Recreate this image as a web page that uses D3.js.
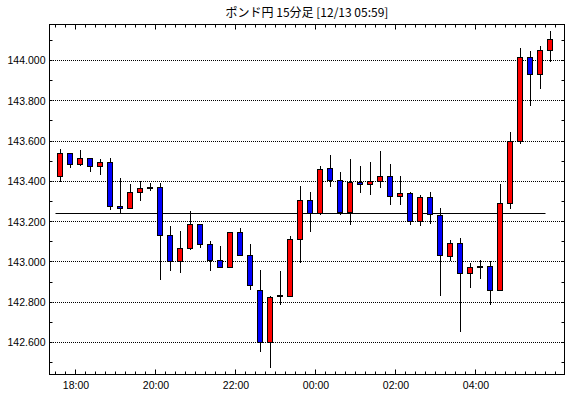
<!DOCTYPE html>
<html>
<head>
<meta charset="utf-8">
<script src="https://cdn.jsdelivr.net/npm/d3@7"></script>
<style>
  body { margin: 0; background: #fff; }
  svg { display: block; }
</style>
</head>
<body>
<div id="chart"></div>
<script>
// GBP/JPY 15 min candles, 12/12 17:30 -> 12/13 05:45
const startTime = "2016-12-12 17:30"
const opens  = [143.424, 143.537, 143.486, 143.515, 143.476, 143.496, 143.277, 143.267, 143.347, 143.370,
                143.370, 143.133, 143.004, 143.069, 143.188, 143.089, 143.009, 142.974, 143.148, 143.034,
                142.860, 142.602, 142.833, 142.830, 143.113, 143.307, 143.239, 143.466, 143.406, 143.247,
                143.396, 143.386, 143.401, 143.426, 143.327, 143.342, 143.203, 143.322, 143.233, 143.029,
                143.093, 142.945, 142.977, 142.979, 142.860, 143.292, 143.600, 144.017, 143.932, 144.052]
const highs  = [143.562, 143.542, 143.557, 143.515, 143.510, 143.515, 143.416, 143.388, 143.401, 143.394,
                143.394, 143.179, 143.155, 143.252, 143.188, 143.103, 143.079, 143.148, 143.168, 143.089,
                142.959, 142.830, 142.954, 143.130, 143.378, 143.348, 143.477, 143.532, 143.446, 143.512,
                143.477, 143.496, 143.552, 143.486, 143.426, 143.347, 143.332, 143.347, 143.267, 143.108,
                143.118, 142.994, 143.009, 143.004, 143.386, 143.646, 144.063, 144.047, 144.073, 144.147]
const lows   = [143.396, 143.464, 143.474, 143.444, 143.434, 143.260, 143.242, 143.267, 143.302, 143.352,
                142.910, 142.953, 142.943, 143.057, 143.067, 142.953, 142.969, 142.974, 143.029, 142.860,
                142.552, 142.473, 142.786, 142.830, 142.996, 143.151, 143.233, 143.374, 143.231, 143.181,
                143.340, 143.332, 143.367, 143.285, 143.285, 143.183, 143.178, 143.188, 142.830, 143.004,
                142.652, 142.870, 142.915, 142.786, 142.855, 143.262, 143.585, 143.774, 143.858, 143.995]
const closes = [143.537, 143.486, 143.515, 143.476, 143.496, 143.277, 143.267, 143.347, 143.367, 143.370,
                143.133, 143.004, 143.069, 143.188, 143.089, 143.009, 142.974, 143.148, 143.034, 142.885,
                142.602, 142.825, 142.833, 143.113, 143.307, 143.239, 143.461, 143.406, 143.247, 143.396,
                143.386, 143.401, 143.426, 143.327, 143.342, 143.203, 143.322, 143.237, 143.034, 143.093,
                142.945, 142.974, 142.977, 142.860, 143.292, 143.600, 144.017, 143.932, 144.052, 144.106]
const refLevel = 143.242
const yTickValues = [142.6, 142.8, 143.0, 143.2, 143.4, 143.6, 143.8, 144.0]
const xTickLabels = ["2016-12-12 18:00", "2016-12-12 20:00", "2016-12-12 22:00",
                     "2016-12-13 00:00", "2016-12-13 02:00", "2016-12-13 04:00"]
const title = "ポンド円 15分足 [12/13 05:59]"

const width = 570
const height = 398
const frame = { left: 49.5, right: 564.5, top: 24.5, bottom: 374.5 }
const slot = 10

const parse = d3.timeParse("%Y-%m-%d %H:%M")
const t0 = parse(startTime)
const times = opens.map((d, i) => d3.timeMinute.offset(t0, 15 * i))
const candles = times.map((t, i) => ({ t: t, o: opens[i], h: highs[i], l: lows[i], c: closes[i] }))

const svg = d3.select("#chart").append("svg")
    .attr("width", width)
    .attr("height", height)

const x = d3.scaleTime()
    .domain([t0, d3.timeMinute.offset(t0, 15 * candles.length)])
    .range([55.5, 55.5 + slot * candles.length])

const y = d3.scaleLinear()
    .domain([142.4412, 144.1787])
    .range([frame.bottom, frame.top])

const snap = v => Math.round(v - 0.5) + 0.5

// title
svg.append("text")
    .attr("x", (frame.left + frame.right) / 2)
    .attr("y", 17)
    .attr("text-anchor", "middle")
    .style("font-family", "'Noto Sans CJK JP', sans-serif")
    .style("font-size", "12px")
    .text(title)

// dotted grid
svg.append("g")
    .attr("shape-rendering", "crispEdges")
    .selectAll("line")
    .data(yTickValues)
    .join("line")
    .attr("x1", frame.left + 1.5).attr("x2", frame.right - 0.5)
    .attr("y1", d => snap(y(d))).attr("y2", d => snap(y(d)))
    .attr("stroke", "#000")
    .attr("stroke-dasharray", "1,1")

// y labels
const yAxis = svg.append("g")
    .attr("transform", "translate(" + frame.left + ",0)")
    .call(d3.axisLeft(y).tickValues(yTickValues).tickSize(0).tickPadding(4).tickFormat(d3.format(".3f")))
yAxis.select(".domain").remove()
yAxis.selectAll("text")
    .style("font-family", "'Liberation Sans', Arial, sans-serif")
    .style("font-size", "10.5px")
    .attr("fill", "#000")

// minor y ticks on both sides
const yMinor = d3.range(142.5, 144.15, 0.1).map(v => +v.toFixed(1))
svg.append("g")
    .selectAll("line")
    .data(yMinor)
    .join("line")
    .attr("x1", frame.left).attr("x2", frame.left + 3)
    .attr("y1", d => snap(y(d))).attr("y2", d => snap(y(d)))
    .attr("stroke", "#000")
svg.append("g")
    .selectAll("line")
    .data(yMinor)
    .join("line")
    .attr("x1", frame.right - 3).attr("x2", frame.right)
    .attr("y1", d => snap(y(d))).attr("y2", d => snap(y(d)))
    .attr("stroke", "#000")

// x ticks, every 15 minutes, longer on labelled hours
const labelTimes = xTickLabels.map(parse)
const isMajor = t => labelTimes.some(d => +d === +t)
const xTicks = x.ticks(d3.timeMinute.every(15))
const tickLen = t => isMajor(t) ? 5 : 3

svg.append("g")
    .selectAll("line")
    .data(xTicks)
    .join("line")
    .attr("x1", d => snap(x(d))).attr("x2", d => snap(x(d)))
    .attr("y1", frame.bottom).attr("y2", d => frame.bottom - tickLen(d))
    .attr("stroke", "#000")
svg.append("g")
    .selectAll("line")
    .data(xTicks)
    .join("line")
    .attr("x1", d => snap(x(d))).attr("x2", d => snap(x(d)))
    .attr("y1", frame.top).attr("y2", d => frame.top + tickLen(d))
    .attr("stroke", "#000")

const xAxis = svg.append("g")
    .attr("transform", "translate(0," + frame.bottom + ")")
    .call(d3.axisBottom(x).tickValues(labelTimes).tickSize(0).tickPadding(7).tickFormat(d3.timeFormat("%H:%M")))
xAxis.select(".domain").remove()
xAxis.selectAll("text")
    .style("font-family", "'Liberation Sans', Arial, sans-serif")
    .style("font-size", "10.5px")
    .attr("fill", "#000")

// reference level
svg.append("line")
    .attr("x1", x(times[0])).attr("x2", x(times[times.length - 1]))
    .attr("y1", snap(y(refLevel))).attr("y2", snap(y(refLevel)))
    .attr("stroke", "#000")

// candles
const g = svg.append("g")
const cx = d => snap(x(d.t) + slot / 2)

g.selectAll("line.wick")
    .data(candles)
    .join("line")
    .attr("class", "wick")
    .attr("x1", cx).attr("x2", cx)
    .attr("y1", d => Math.round(y(d.h))).attr("y2", d => Math.round(y(d.l)))
    .attr("stroke", "#000")

g.selectAll("rect")
    .data(candles)
    .join("rect")
    .attr("x", d => cx(d) - 3)
    .attr("width", 5)
    .attr("y", d => snap(y(Math.max(d.o, d.c))))
    .attr("height", d => Math.max(1, snap(y(Math.min(d.o, d.c))) - snap(y(Math.max(d.o, d.c)))))
    .attr("fill", d => d.c > d.o ? "#ff0000" : d.c < d.o ? "#0000ff" : "#000")
    .attr("stroke", "#000")

// frame
svg.append("rect")
    .attr("x", frame.left).attr("y", frame.top)
    .attr("width", frame.right - frame.left)
    .attr("height", frame.bottom - frame.top)
    .attr("fill", "none")
    .attr("stroke", "#000")
</script>
</body>
</html>
